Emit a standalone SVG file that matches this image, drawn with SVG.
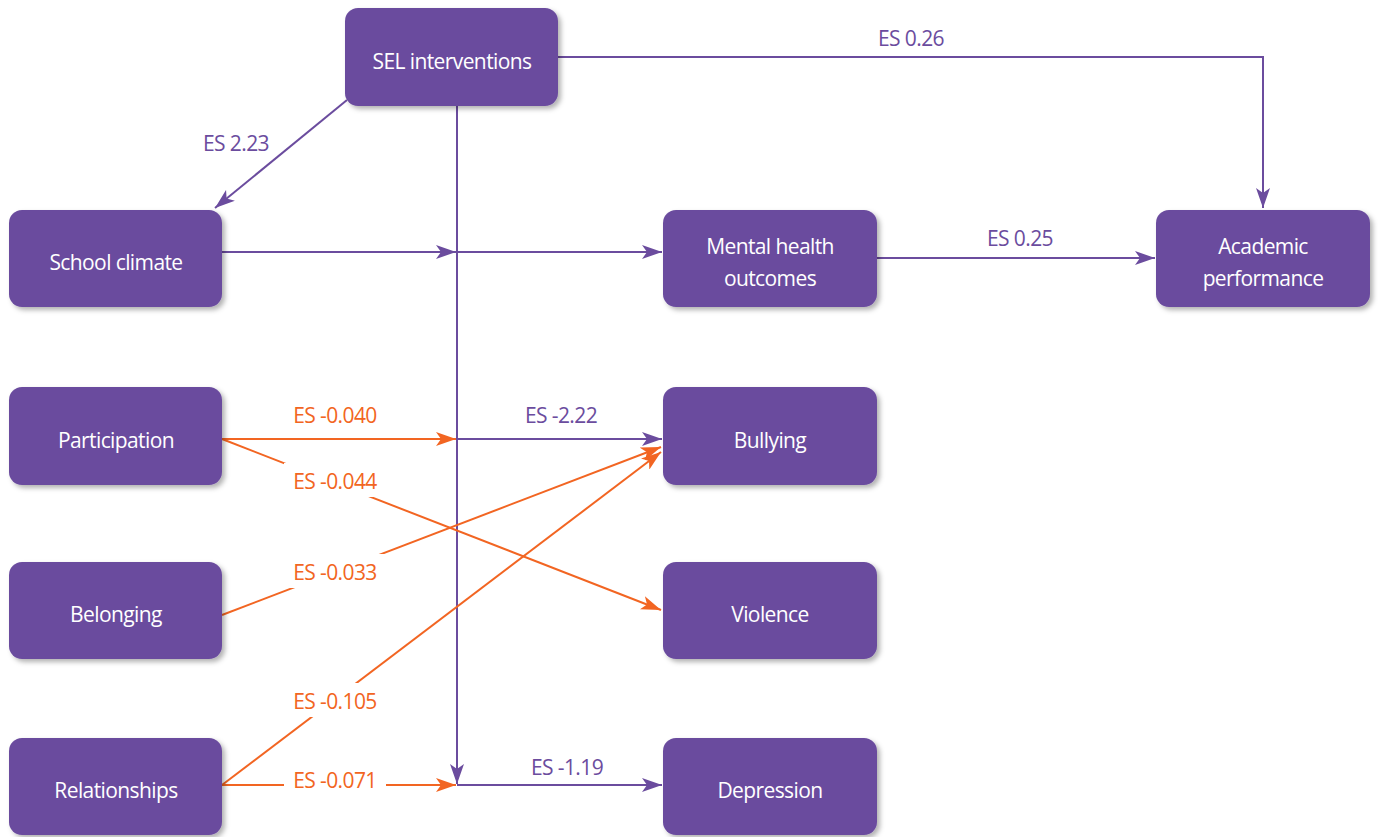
<svg xmlns="http://www.w3.org/2000/svg" width="1378" height="837" viewBox="0 0 1378 837">
<style>
.box{fill:#6b4c9e;filter:url(#sh)}
.bt{fill:#fff;font-family:"Open Sans","Noto Sans",sans-serif;font-size:21px;text-anchor:middle;letter-spacing:-0.6px}
.lp{fill:none;stroke:#6b4c9e;stroke-width:2}
.lo{fill:none;stroke:#f26522;stroke-width:2}
.tp{fill:#6b4c9e;font-family:"Open Sans","Noto Sans",sans-serif;font-size:21px;text-anchor:middle;letter-spacing:-0.6px}
.to{fill:#f26522;font-family:"Open Sans","Noto Sans",sans-serif;font-size:21px;text-anchor:middle;letter-spacing:-0.6px}
.bg{fill:#fff}
</style>
<defs>
<filter id="sh" x="-10%" y="-10%" width="125%" height="130%">
<feDropShadow dx="3" dy="3" stdDeviation="2.5" flood-color="#000" flood-opacity="0.3"/>
</filter>
<marker id="ap" viewBox="0 0 20 14" refX="20" refY="7" markerWidth="20" markerHeight="14" markerUnits="userSpaceOnUse" orient="auto">
<path d="M0,0 L20,7 L0,14 L5,7 Z" fill="#6b4c9e"/>
</marker>
<marker id="ao" viewBox="0 0 20 14" refX="20" refY="7" markerWidth="20" markerHeight="14" markerUnits="userSpaceOnUse" orient="auto">
<path d="M0,0 L20,7 L0,14 L5,7 Z" fill="#f26522"/>
</marker>
</defs>
<rect width="1378" height="837" fill="#fff"/>
<g id="connectors">
<path class="lp" d="M457,106 V784" marker-end="url(#ap)"/>
<path class="lp" d="M558,57 H1263 V208" marker-end="url(#ap)"/>
<path class="lp" d="M347,100 L215,208" marker-end="url(#ap)"/>
<path class="lp" d="M222,252 H456" marker-end="url(#ap)"/>
<path class="lp" d="M457,252 H662" marker-end="url(#ap)"/>
<path class="lp" d="M877,258 H1155" marker-end="url(#ap)"/>
<path class="lo" d="M222,439 H456" marker-end="url(#ao)"/>
<path class="lp" d="M457,439 H662" marker-end="url(#ap)"/>
<path class="lo" d="M222,439 L661,610" marker-end="url(#ao)"/>
<path class="lo" d="M222,615 L661,447" marker-end="url(#ao)"/>
<path class="lo" d="M222,785 L661,452" marker-end="url(#ao)"/>
<path class="lo" d="M222,785 H456" marker-end="url(#ao)"/>
<path class="lp" d="M457,785 H662" marker-end="url(#ap)"/>
<rect class="bg" x="284" y="463" width="102" height="34"/>
<rect class="bg" x="284" y="554" width="102" height="34"/>
<rect class="bg" x="284" y="683" width="102" height="34"/>
<rect class="bg" x="284" y="764" width="102" height="34"/>
<text class="tp" x="236" y="151">ES 2.23</text>
<text class="tp" x="911" y="46">ES 0.26</text>
<text class="tp" x="1020" y="246">ES 0.25</text>
<text class="to" x="335" y="423">ES -0.040</text>
<text class="tp" x="561" y="423">ES -2.22</text>
<text class="to" x="335" y="489">ES -0.044</text>
<text class="to" x="335" y="580">ES -0.033</text>
<text class="to" x="335" y="709">ES -0.105</text>
<text class="to" x="335" y="788">ES -0.071</text>
<text class="tp" x="567" y="775">ES -1.19</text>
</g>
<g id="sel"><rect class="box" x="345" y="8" width="213" height="98" rx="13"/><text class="bt" x="452" y="69">SEL interventions</text></g>
<g id="school"><rect class="box" x="9" y="210" width="213" height="97" rx="13"/><text class="bt" x="116" y="270">School climate</text></g>
<g id="mental"><rect class="box" x="663" y="210" width="214" height="97" rx="13"/><text class="bt" x="770" y="254">Mental health</text><text class="bt" x="770" y="286">outcomes</text></g>
<g id="academic"><rect class="box" x="1156" y="210" width="214" height="97" rx="13"/><text class="bt" x="1263" y="254">Academic</text><text class="bt" x="1263" y="286">performance</text></g>
<g id="participation"><rect class="box" x="9" y="387" width="213" height="98" rx="13"/><text class="bt" x="116" y="448">Participation</text></g>
<g id="bullying"><rect class="box" x="663" y="387" width="214" height="98" rx="13"/><text class="bt" x="770" y="448">Bullying</text></g>
<g id="belonging"><rect class="box" x="9" y="562" width="213" height="97" rx="13"/><text class="bt" x="116" y="622">Belonging</text></g>
<g id="violence"><rect class="box" x="663" y="562" width="214" height="97" rx="13"/><text class="bt" x="770" y="622">Violence</text></g>
<g id="relationships"><rect class="box" x="9" y="738" width="213" height="97" rx="13"/><text class="bt" x="116" y="798">Relationships</text></g>
<g id="depression"><rect class="box" x="663" y="738" width="214" height="97" rx="13"/><text class="bt" x="770" y="798">Depression</text></g>
</svg>
